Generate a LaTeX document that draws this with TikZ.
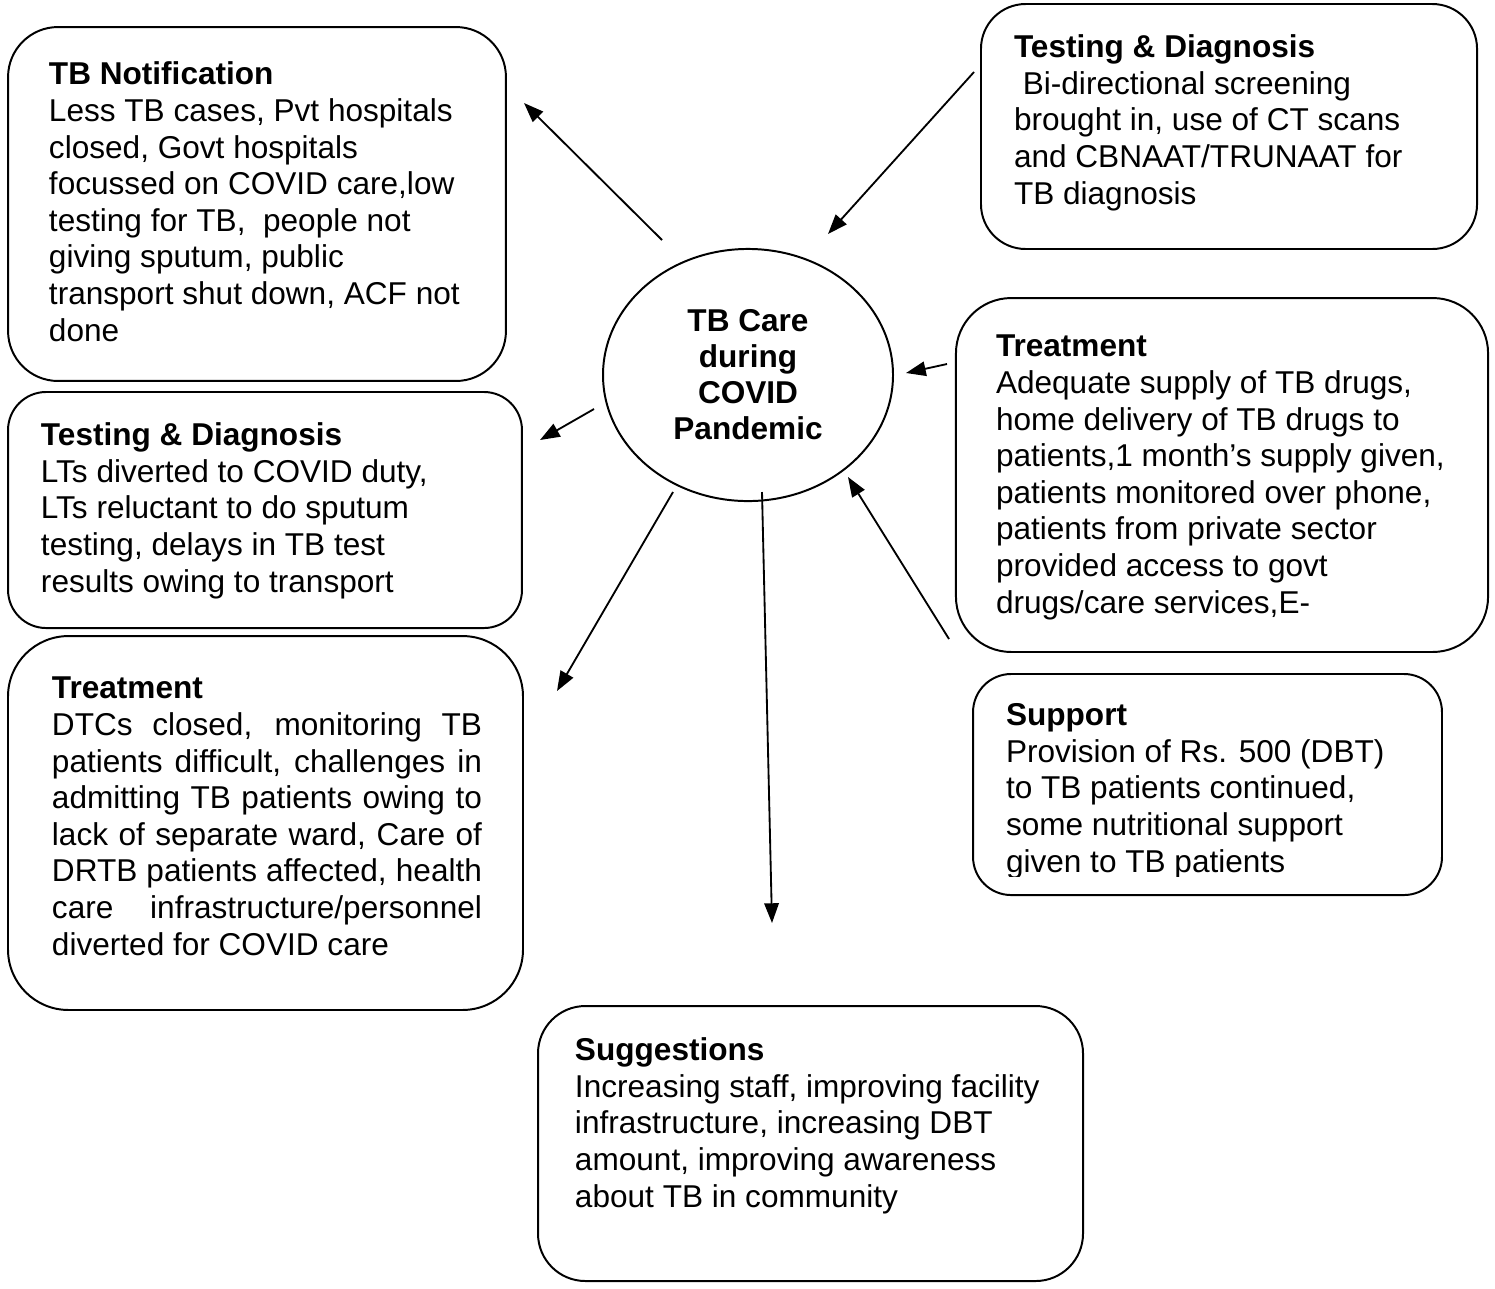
\documentclass[tikz,border=0pt]{standalone}
\usepackage{fontspec}
\setmainfont{Liberation Sans}
\usetikzlibrary{shapes.geometric,arrows.meta}

\begin{document}
\begin{tikzpicture}[x=0.38pt,y=-0.38pt,line width=0.75pt,
  font=\fontsize{12pt}{13.9pt}\selectfont,
  card/.style={draw,rectangle,inner sep=0pt},
  txt/.style={anchor=base west,align=left,inner sep=0pt},
  arr/.style={-{Triangle[length=7.5pt,width=5.5pt]},line width=0.7pt}]
\useasboundingbox[fill=white] (0,0) rectangle (1495,1288);
%\draw[help lines,step=100] (0,0) grid (1495,1288);
\node[draw,ellipse,minimum width=110.2pt,minimum height=95.8pt,align=center,
  font=\fontsize{12pt}{13.7pt}\selectfont\bfseries] (care) at (748,375) {TB Care\\during\\COVID\\Pandemic};
\node[card,rounded corners=19pt,minimum width=189.2pt,minimum height=134.5pt] (notif) at (257,204) {};
\node[card,rounded corners=14.5pt,minimum width=195.3pt,minimum height=89.7pt] (testL) at (265,510) {};
\node[card,rounded corners=23pt,minimum width=195.7pt,minimum height=142.1pt] (treatL) at (265.5,823) {};
\node[card,rounded corners=17pt,minimum width=188.5pt,minimum height=93.1pt] (testR) at (1229,126.5) {};
\node[card,rounded corners=21pt,minimum width=202.2pt,minimum height=134.5pt] (treatR) at (1222,475) {};
\node[card,rounded corners=14.5pt,minimum width=178.2pt,minimum height=84pt] (support) at (1207.5,784.5) {};
\node[card,rounded corners=18pt,minimum width=207.1pt,minimum height=104.5pt] (sugg) at (810.5,1143.5) {};
% base = last line
\node[txt] (notifT) at (48,341) {\textbf{TB Notification}\\Less TB cases, Pvt hospitals\\closed, Govt hospitals\\focussed on COVID care,low\\testing for TB,\ \ people not\\giving sputum, public\\transport shut down, ACF not\\done};
\node[txt] (testLT) at (40,592) {\textbf{Testing \& Diagnosis}\\LTs diverted to COVID duty,\\LTs reluctant to do sputum\\testing, delays in TB test\\results owing to transport};
\node[txt] (treatLT) at (51,955) {\textbf{Treatment}\\\makebox[163.4pt][s]{DTCs closed, monitoring TB}\\\makebox[163.4pt][s]{patients difficult, challenges in}\\\makebox[163.4pt][s]{admitting TB patients owing to}\\\makebox[163.4pt][s]{lack of separate ward, Care of}\\\makebox[163.4pt][s]{DRTB patients affected, health}\\\makebox[163.4pt][s]{care infrastructure/personnel}\\diverted for COVID care};
\node[txt] (testRT) at (1013,204) {\textbf{Testing \& Diagnosis}\\\hspace*{0.28em}Bi-directional screening\\brought in, use of CT scans\\and CBNAAT/TRUNAAT for\\TB diagnosis};
\node[txt] (treatRT) at (995,613) {\textbf{Treatment}\\Adequate supply of TB drugs,\\home delivery of TB drugs to\\patients,1 month’s supply given,\\patients monitored over phone,\\patients from private sector\\provided access to govt\\drugs/care services,E-};
\begin{scope}
\clip (973,674) rectangle (1442,876);
\node[txt] (supportT) at (1005,872) {\textbf{Support}\\Provision of Rs. 500 (DBT)\\to TB patients continued,\\some nutritional support\\given to TB patients};
\end{scope}
\node[txt] (suggT) at (574,1207) {\textbf{Suggestions}\\Increasing staff, improving facility\\infrastructure, increasing DBT\\amount, improving awareness\\about TB in community};
\coordinate (cN1) at (662,240); \coordinate (notifA) at (524,103);
\coordinate (testRA) at (974,72); \coordinate (cN2) at (828,234);
\coordinate (treatRA) at (947,364); \coordinate (cE) at (906,373);
\coordinate (cW) at (594,409); \coordinate (testLA) at (540,440);
\coordinate (cS1) at (673,492); \coordinate (treatLA) at (557,691);
\coordinate (cS2) at (762,492); \coordinate (suggA) at (772,923);
\coordinate (supportA) at (949,639); \coordinate (cS3) at (848,477);
\foreach \a/\b in {cN1/notifA,testRA/cN2,treatRA/cE,cW/testLA,cS1/treatLA,cS2/suggA,supportA/cS3}
\draw[arr] (\a)--(\b);
\end{tikzpicture}
\end{document}
